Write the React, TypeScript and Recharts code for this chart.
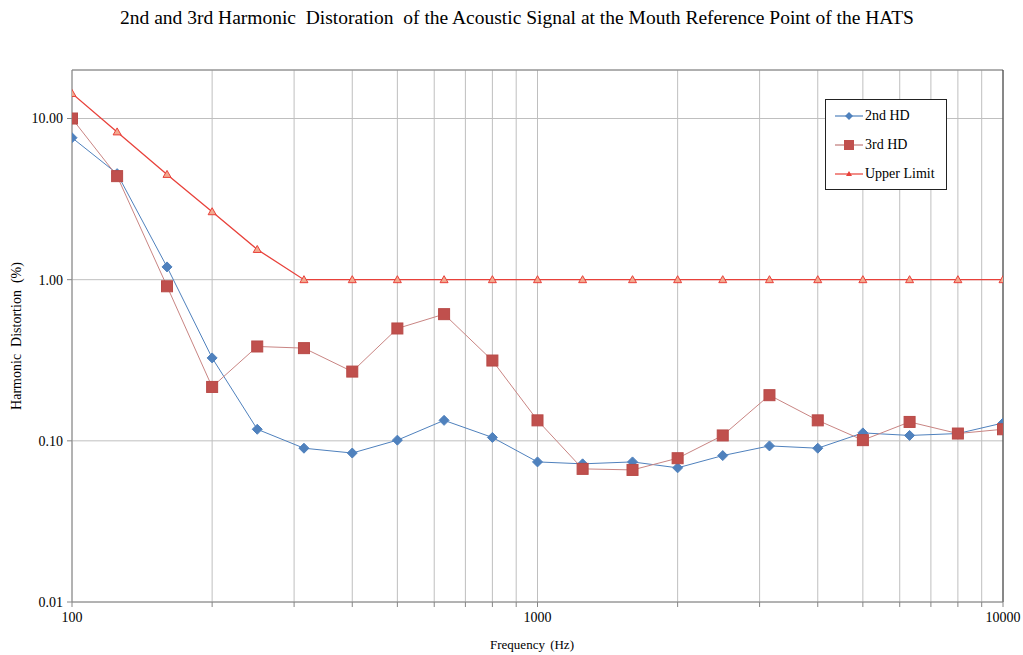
import React from 'react';
import {
  LineChart,
  Line,
  XAxis,
  YAxis,
  CartesianGrid,
  ReferenceLine,
} from 'recharts';

// 1/3-octave centre frequencies (Hz)
const FREQS = [100, 125, 160, 200, 250, 315, 400, 500, 630, 800, 1000, 1250, 1600, 2000, 2500, 3150, 4000, 5000, 6300, 8000, 10000];
// harmonic distortion (%)
const HD2 = [7.6, 4.55, 1.2, 0.327, 0.118, 0.09, 0.084, 0.101, 0.134, 0.105, 0.074, 0.072, 0.074, 0.068, 0.081, 0.093, 0.09, 0.112, 0.108, 0.111, 0.129];
const HD3 = [10.0, 4.39, 0.91, 0.216, 0.385, 0.376, 0.269, 0.498, 0.611, 0.315, 0.134, 0.067, 0.066, 0.078, 0.108, 0.192, 0.134, 0.101, 0.131, 0.111, 0.118];
const LIMIT = [14.3, 8.26, 4.5, 2.64, 1.54, 1, 1, 1, 1, 1, 1, 1, 1, 1, 1, 1, 1, 1, 1, 1, 1];

const X_TICKS = [100, 200, 300, 400, 500, 600, 700, 800, 900, 1000, 2000, 3000, 4000, 5000, 6000, 7000, 8000, 9000, 10000];
const X_LABELS = [100, 1000, 10000];
const Y_TICKS = [0.01, 0.1, 1, 10];

const BLUE = '#4F81BD';
const RED = '#C0504D';
const LIMIT_RED = '#E8413A';
const FONT = '"Liberation Serif", "Times New Roman", serif';

const data = FREQS.map((f, i) => ({ freq: f, hd2: HD2[i], hd3: HD3[i], limit: LIMIT[i] }));

const Diamond = (props: any) => {
  const { cx, cy, index } = props;
  if (cx == null || cy == null) return <g key={`d-${index}`} />;
  return (
    <polygon
      key={`d-${index}`}
      points={`${cx},${cy - 5} ${cx + 5},${cy} ${cx},${cy + 5} ${cx - 5},${cy}`}
      fill={BLUE}
      stroke={BLUE}
    />
  );
};

const Square = (props: any) => {
  const { cx, cy, index } = props;
  if (cx == null || cy == null) return <g key={`s-${index}`} />;
  return <rect key={`s-${index}`} x={cx - 5.5} y={cy - 5.5} width={11} height={11} fill={RED} stroke="#B84A47" />;
};

const Triangle = (props: any) => {
  const { cx, cy, index } = props;
  if (cx == null || cy == null) return <g key={`t-${index}`} />;
  return (
    <polygon
      key={`t-${index}`}
      points={`${cx},${cy - 4} ${cx + 4},${cy + 3} ${cx - 4},${cy + 3}`}
      fill="#F2A98F"
      stroke={LIMIT_RED}
      strokeWidth={1}
    />
  );
};

// legend drawn as a plain box over the plot, like the original
const LegendBox = () => {
  const rows = [
    { label: '2nd HD', color: BLUE, mark: <polygon points="14,3 18,7 14,11 10,7" fill={BLUE} /> },
    { label: '3rd HD', color: '#C07B79', mark: <rect x={9} y={2} width={10} height={10} fill={RED} /> },
    { label: 'Upper Limit', color: LIMIT_RED, mark: <polygon points="14,4 17,9 11,9" fill={LIMIT_RED} /> },
  ];
  return (
    <div
      style={{
        position: 'absolute',
        left: 825,
        top: 99,
        width: 122,
        height: 91,
        boxSizing: 'border-box',
        border: '1px solid #222',
        background: '#fff',
        fontFamily: FONT,
        fontSize: 14,
        paddingTop: 1,
      }}
    >
      {rows.map((r) => (
        <div key={r.label} style={{ display: 'flex', alignItems: 'center', height: 29 }}>
          <svg width={28} height={14} style={{ marginLeft: 9, flex: 'none' }}>
            <line x1={0} y1={7} x2={28} y2={7} stroke={r.color} strokeWidth={1.2} />
            {r.mark}
          </svg>
          <span style={{ marginLeft: 2, color: '#000', whiteSpace: 'nowrap' }}>{r.label}</span>
        </div>
      ))}
    </div>
  );
};

export default function App() {
  return (
    <div style={{ position: 'absolute', left: 0, top: 0, width: 1023, height: 655, background: '#fff', fontFamily: FONT }}>
      <style>{`.recharts-text, .recharts-cartesian-axis-tick-value { font-family: ${FONT}; }`}</style>
      <div
        style={{
          position: 'absolute',
          left: 517,
          top: 18,
          transform: 'translate(-50%, -50%)',
          fontSize: 19.5,
          color: '#000',
          whiteSpace: 'pre',
        }}
      >
        {'2nd and 3rd Harmonic  Distoration  of the Acoustic Signal at the Mouth Reference Point of the HATS'}
      </div>
      <div
        style={{
          position: 'absolute',
          left: 17,
          top: 336,
          transform: 'translate(-50%, -50%) rotate(-90deg)',
          fontSize: 14,
          whiteSpace: 'pre',
        }}
      >
        {'Harmonic  Distortion  (%)'}
      </div>
      <div
        style={{
          position: 'absolute',
          left: 532,
          top: 645,
          transform: 'translate(-50%, -50%)',
          fontSize: 13,
          wordSpacing: 2,
          whiteSpace: 'pre',
        }}
      >
        {'Frequency (Hz)'}
      </div>
      <LineChart
        width={1023}
        height={655}
        data={data}
        margin={{ top: 70, right: 20, bottom: 0, left: 0 }}
        style={{ fontFamily: FONT }}
      >
        <CartesianGrid stroke="#BFBFBF" strokeWidth={1} />
        <XAxis
          dataKey="freq"
          type="number"
          scale="log"
          domain={[100, 10000]}
          ticks={X_TICKS}
          interval={0}
          height={53}
          tickSize={5}
          tickMargin={5}
          stroke="#868686"
          tick={{ fill: '#000', fontSize: 14, fontFamily: FONT }}
          tickFormatter={(v: number) => (X_LABELS.includes(v) ? String(v) : '')}
          allowDataOverflow
        />
        <YAxis
          type="number"
          scale="log"
          domain={[0.01, 20]}
          ticks={Y_TICKS}
          interval={0}
          width={72}
          tickSize={5}
          tickMargin={4}
          stroke="#868686"
          tick={{ fill: '#000', fontSize: 14, fontFamily: FONT }}
          tickFormatter={(v: number) => v.toFixed(2)}
          allowDataOverflow
        />
        <ReferenceLine y={20} stroke="#808080" />
        <ReferenceLine x={10000} stroke="#303030" />
        <Line
          dataKey="hd2"
          name="2nd HD"
          stroke={BLUE}
          strokeWidth={1}
          dot={Diamond}
          activeDot={false}
          isAnimationActive={false}
        />
        <Line
          dataKey="hd3"
          name="3rd HD"
          stroke="#C98583"
          strokeWidth={1}
          dot={Square}
          activeDot={false}
          isAnimationActive={false}
        />
        <Line
          dataKey="limit"
          name="Upper Limit"
          stroke={LIMIT_RED}
          strokeWidth={1.3}
          dot={Triangle}
          activeDot={false}
          isAnimationActive={false}
        />
      </LineChart>
      <LegendBox />
    </div>
  );
}
